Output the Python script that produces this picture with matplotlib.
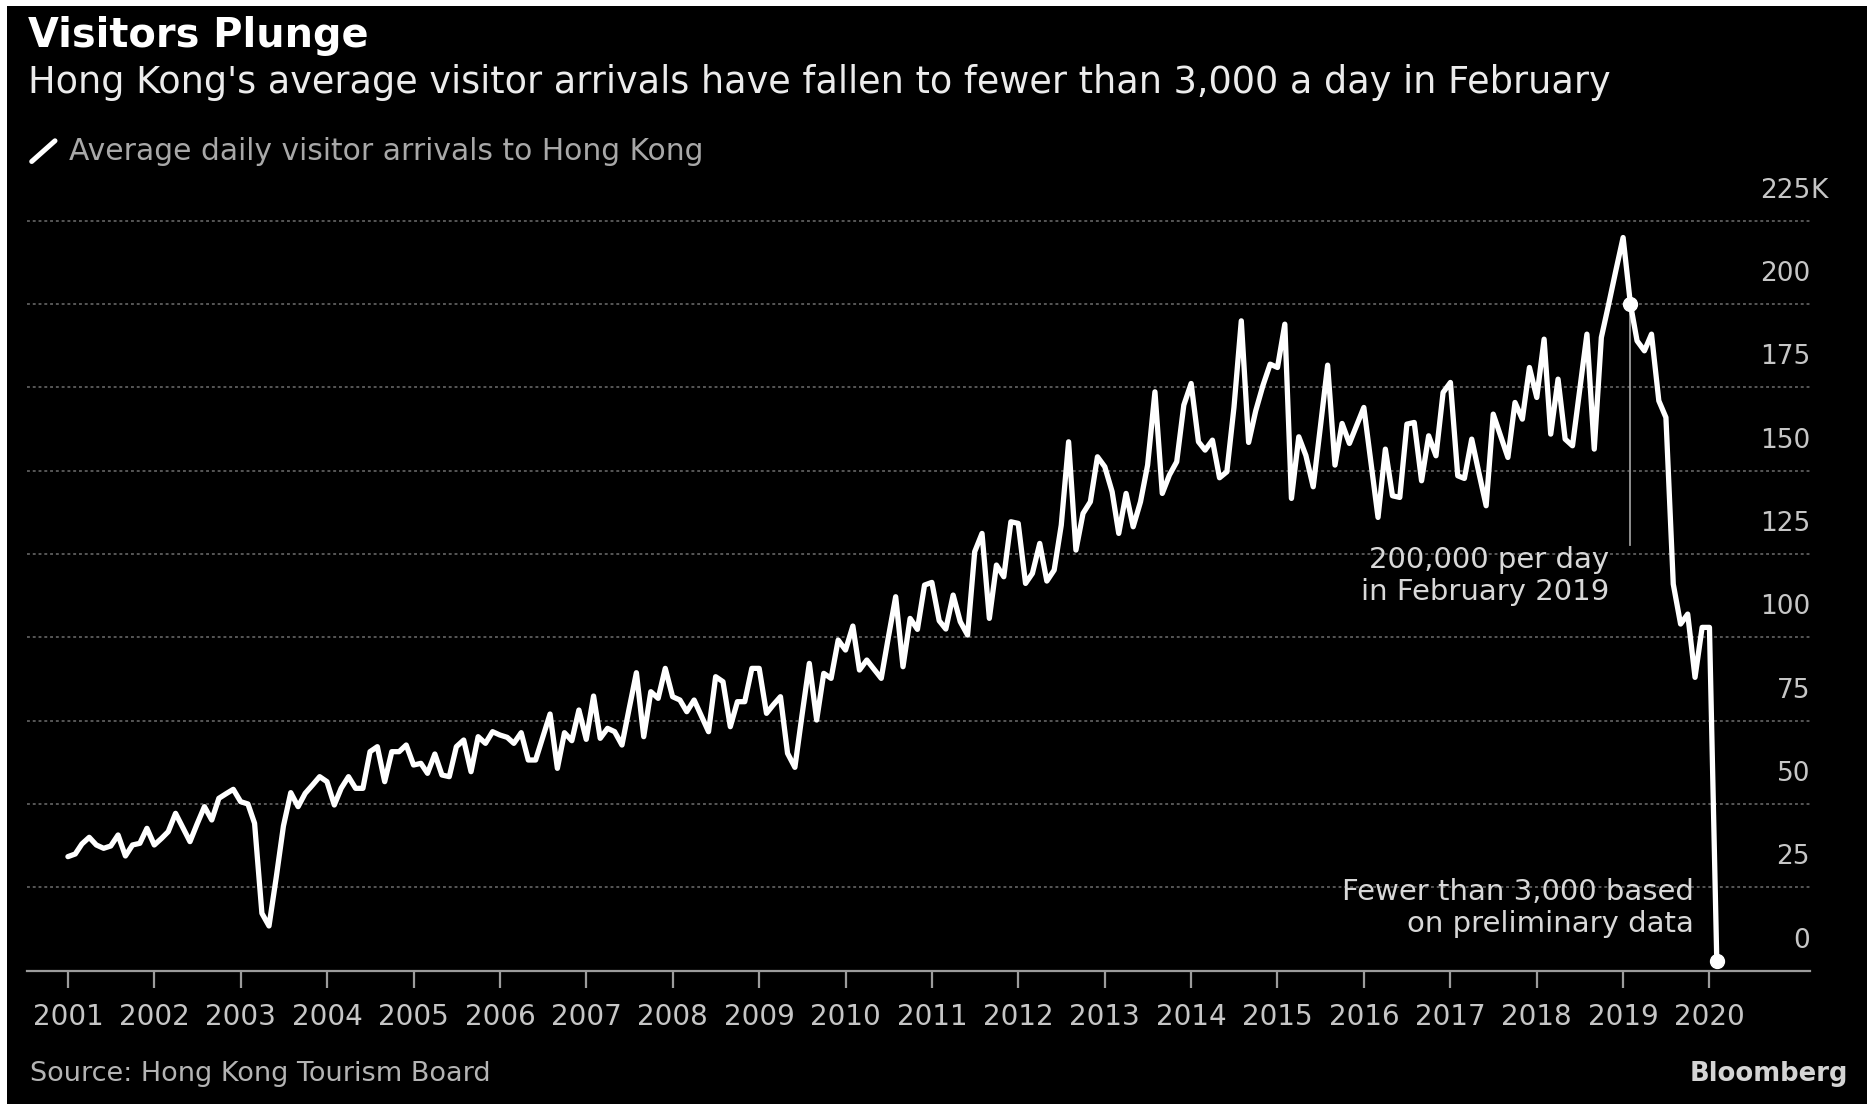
import matplotlib
matplotlib.use("Agg")
import matplotlib.pyplot as plt
import matplotlib.transforms as mtransforms
from matplotlib.lines import Line2D
from matplotlib.patches import Rectangle
import numpy as np
import pandas as pd

# ---------------- data (average daily visitor arrivals, thousands) ----------------
y2001 = [34.2, 35.0, 38.0, 40.0, 37.7, 36.7, 37.4, 40.7, 34.4, 37.7, 38.2, 42.7]
y2002 = [37.7, 39.7, 41.7, 47.2, 43.0, 38.7, 44.0, 49.2, 45.2, 51.7, 53.1, 54.4]
y2003 = [50.7, 50.0, 44.2, 17.2, 13.4, 28.2, 43.4, 53.4, 49.2, 53.2, 55.7, 58.2]
y2004 = [56.7, 49.7, 54.7, 58.2, 54.7, 54.7, 65.7, 67.2, 56.7, 65.7, 65.7, 67.7]
y2005 = [61.7, 62.2, 59.2, 65.0, 58.7, 58.2, 67.2, 69.2, 59.7, 70.2, 68.2, 71.7]
y2006 = [70.7, 70.0, 68.2, 71.4, 63.2, 63.2, 70.0, 77.0, 60.7, 71.4, 69.0, 78.2]
y2007 = [69.4, 82.4, 69.7, 72.7, 71.7, 67.7, 78.5, 89.4, 70.2, 83.7, 81.7, 90.7]
y2008 = [82.2, 81.2, 77.7, 81.2, 76.5, 71.7, 88.2, 86.7, 73.2, 80.7, 80.7, 90.7]
y2009 = [90.7, 77.2, 79.7, 82.2, 65.2, 61.0, 76.6, 92.2, 75.2, 89.2, 87.7, 99.2]
y2010 = [96.2, 103.4, 90.2, 93.2, 90.5, 87.7, 100.0, 112.2, 91.2, 105.7, 102.4, 115.7]
y2011 = [116.5, 105.0, 102.5, 112.7, 104.7, 100.7, 125.7, 131.2, 105.7, 121.7, 118.2, 134.7]
y2012 = [134.2, 116.2, 119.2, 128.2, 116.9, 120.2, 133.7, 158.7, 126.2, 137.2, 140.7, 154.2]
y2013 = [151.2, 143.7, 131.2, 143.2, 133.2, 140.7, 151.7, 173.7, 143.2, 148.7, 152.7, 169.7]
y2014 = [176.2, 158.7, 156.2, 159.2, 147.9, 149.7, 169.0, 195.0, 158.5, 168.0, 175.7, 182.0]
y2015 = [181.0, 194.0, 141.7, 160.2, 154.6, 145.2, 163.0, 181.7, 151.7, 164.2, 158.2, 163.5]
y2016 = [169.0, 152.0, 136.0, 156.5, 142.5, 142.0, 164.0, 164.5, 147.0, 160.5, 154.5, 173.5]
y2017 = [176.5, 148.5, 147.7, 159.5, 149.5, 139.5, 167.0, 160.5, 154.0, 170.5, 165.5, 181.0]
y2018 = [172.0, 189.5, 161.0, 177.5, 159.5, 157.5, 174.0, 191.0, 156.5, 190.0, 200.0, 210.0]
y2019 = [220.0, 200.0, 189.0, 186.0, 191.0, 171.0, 166.0, 116.0, 104.0, 107.0, 88.0, 103.0]
y2020 = [103.0, 2.9]

values = np.array(y2001 + y2002 + y2003 + y2004 + y2005 + y2006 + y2007 + y2008 + y2009
                  + y2010 + y2011 + y2012 + y2013 + y2014 + y2015 + y2016 + y2017 + y2018
                  + y2019 + y2020)
dates = pd.date_range("2001-01-01", periods=len(values), freq="MS")

highlight_dates = ["2019-02-01", "2020-02-01"]
xtick_years = list(range(2001, 2021))
ytick_values = [0, 25, 50, 75, 100, 125, 150, 175, 200, 225]
ytick_labels = ["0", "25", "50", "75", "100", "125", "150", "175", "200", "225"]
ytop_suffix = "K"

title = "Visitors Plunge"
subtitle = "Hong Kong's average visitor arrivals have fallen to fewer than 3,000 a day in February"
legend_label = "Average daily visitor arrivals to Hong Kong"
source = "Source: Hong Kong Tourism Board"
note_feb2019 = "200,000 per day\nin February 2019"
note_feb2020 = "Fewer than 3,000 based\non preliminary data"

# ---------------- figure ----------------
W, H = 1867, 1104
plt.rcParams["font.family"] = ["DejaVu Sans"]
fig = plt.figure(figsize=(W / 100, H / 100), dpi=100, facecolor="white")
fig.add_artist(Rectangle((7 / W, 0), 1, 1 - 6 / H, transform=fig.transFigure,
                         facecolor="black", edgecolor="none", zorder=-5))

ax_left, ax_right = 27 / W, 1810 / W
ax_bottom = (H - 970.6) / H
ax_top = (H - 204.2) / H
ax = fig.add_axes([ax_left, ax_bottom, ax_right - ax_left, ax_top - ax_bottom])
ax.set_facecolor("none")

ax.plot(dates, values, color="white", lw=3.8, solid_joinstyle="round",
        solid_capstyle="round", zorder=4)
hl = pd.to_datetime(highlight_dates)
hl_vals = pd.Series(values, index=dates).loc[hl].values
ax.plot(hl, hl_vals, "o", color="white", ms=10, zorder=5, clip_on=False)

ax.set_ylim(0, 230)
ax.set_xlim(pd.Timestamp("2000-07-12"), pd.Timestamp("2021-03-01"))

# grid
ax.set_yticks(ytick_values[1:])
ax.yaxis.grid(True, color="#5e5e5e", lw=1.3, linestyle=(0, (1.6, 1.6)))
ax.set_axisbelow(True)
ax.tick_params(axis="y", length=0, labelleft=False, labelright=False)

for s in ["top", "right", "left"]:
    ax.spines[s].set_visible(False)
ax.spines["bottom"].set_color("#9c9c9c")
ax.spines["bottom"].set_linewidth(1.6)

ax.set_xticks([pd.Timestamp(f"{y}-01-01") for y in xtick_years])
ax.set_xticklabels([str(y) for y in xtick_years])
ax.tick_params(axis="x", length=12, width=1.6, color="#9c9c9c", labelsize=20,
               labelcolor="#c6c6c6", pad=11)

# y labels sitting above their gridlines
ytrans = mtransforms.blended_transform_factory(ax.transAxes, ax.transData) + \
    mtransforms.ScaledTranslation(0, 0.30, fig.dpi_scale_trans)
for v, lab in zip(ytick_values, ytick_labels):
    ax.text(1.0, v, lab, transform=ytrans, ha="right", va="center",
            fontsize=19, color="#c6c6c6")
ax.text(1.0, ytick_values[-1], ytop_suffix, transform=ytrans, ha="left", va="center",
        fontsize=19, color="#c6c6c6")

# annotations
ann_color = "#d8d8d8"
ax.plot([hl[0], hl[0]], [hl_vals[0], 127.7], color="#9a9a9a", lw=1.3, zorder=3)
off1 = mtransforms.ScaledTranslation(-0.21, 0, fig.dpi_scale_trans)
ax.text(hl[0], 118.4, note_feb2019, transform=ax.transData + off1, ha="right",
        va="center", fontsize=21, color=ann_color, linespacing=1.2, zorder=6)
off2 = mtransforms.ScaledTranslation(-0.23, 0, fig.dpi_scale_trans)
ax.text(hl[1], 18.7, note_feb2020, transform=ax.transData + off2, ha="right",
        va="center", fontsize=21, color=ann_color, linespacing=1.2, zorder=6)

# titles
fig.text(28 / W, 1 - 47 / H, title, fontsize=28.7, fontweight="bold", color="white",
         va="baseline", ha="left")
fig.text(28 / W, 1 - 93 / H, subtitle, fontsize=26.4, color="#ececec",
         va="baseline", ha="left")

# legend
fig.add_artist(Line2D([31.7 / W, 55 / W], [1 - 161.5 / H, 1 - 140.8 / H],
                      transform=fig.transFigure, color="white", lw=3.6,
                      solid_capstyle="round"))
fig.text(69 / W, 1 - 159.5 / H, legend_label, fontsize=21.4, color="#a8a8a8",
         va="baseline", ha="left")

# footer
fig.text(30 / W, 1 - 1074 / H, source, fontsize=19.5, color="#b4b4b4",
         va="center", ha="left")
fig.text(1848 / W, 1 - 1074 / H, "Bloomberg", fontsize=18.6, fontweight="bold",
         color="#d4d4d4", va="center", ha="right")

fig.savefig("out.png", dpi=100, facecolor=fig.get_facecolor())
